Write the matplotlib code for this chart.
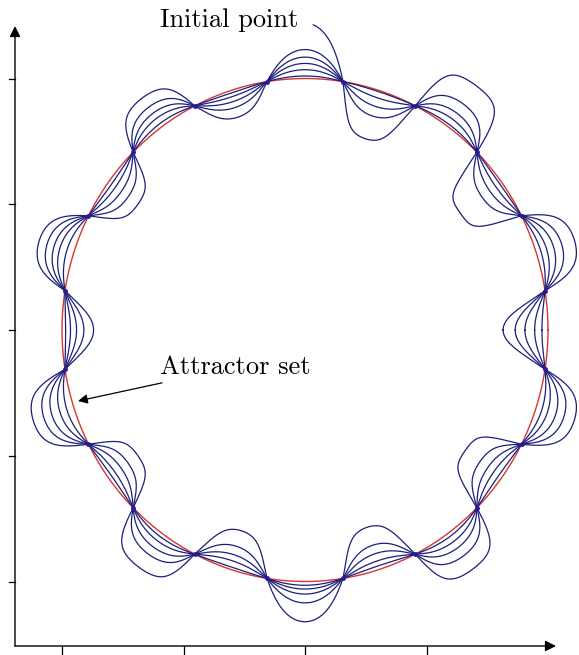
import numpy as np
import matplotlib
matplotlib.use("Agg")
import matplotlib.pyplot as plt

# attractor radius and the angles of the 20 lobes (centre of each arc between crossing points)
radius = 2.0
lobe_mid_deg = [18 * k for k in range(20)]

# signed radial deviation of each lobe, one list per turn of the trajectory
# (index k -> lobe centred at 18k degrees)
turn1_dev = [-0.37, 0.33, -0.42, 0.40, -0.40, 0.23, -0.22, 0.28, -0.30, 0.30,
             -0.26, 0.35, -0.30, 0.33, -0.32, 0.32, -0.35, 0.35, -0.37, 0.33]
turn2_dev = [-0.27, 0.22, -0.20, 0.22, -0.21, 0.17, -0.14, 0.19, -0.20, 0.23,
             -0.18, 0.26, -0.20, 0.20, -0.19, 0.17, -0.20, 0.22, -0.22, 0.24]
turn3_dev = [-0.19, 0.15, -0.12, 0.13, -0.13, 0.12, -0.09, 0.13, -0.13, 0.17,
             -0.12, 0.19, -0.13, 0.13, -0.12, 0.10, -0.13, 0.14, -0.14, 0.17]
turn4_dev = [-0.11, 0.09, -0.06, 0.07, -0.06, 0.07, -0.05, 0.08, -0.07, 0.12,
             -0.07, 0.12, -0.07, 0.07, -0.07, 0.06, -0.07, 0.08, -0.08, 0.10]
turn5_dev = [-0.05, 0.04, -0.02, 0.02, -0.01, 0.02, -0.02, 0.03, -0.03, 0.06,
             -0.03, 0.06, -0.03, 0.03, -0.02, 0.03, -0.03, 0.03, -0.03, 0.05]

# start of the trajectory (angle in degrees, deviation of that first lobe)
init_angle_deg = 88.4
init_dev = 0.44

x_ticks = [-2, -1, 0, 1]
y_ticks = [-2, -1, 0, 1, 2]

blue = '#1c1f7a'
red = '#d8362e'


def lobe_radius(theta_deg, devs):
    # radius along the curve: each arc between nodes bulges by its deviation;
    # lobes on the diagonals get a flatter (boxier) profile than those on the axes
    theta_deg = np.asarray(theta_deg, dtype=float)
    kr = np.round(theta_deg / 18.0)
    k = kr.astype(int) % 20
    u = (theta_deg - (kr * 18 - 9)) / 18.0
    d = np.asarray(devs)[k]
    mid = np.radians(kr * 18)
    c = 0.3 + (1.0 + 4.0 * np.abs(np.sin(2 * mid))) * np.abs(d)
    shape = np.tanh(c * np.sin(np.pi * u)) / np.tanh(c)
    return radius + d * shape


# pixel -> data helpers for the layout (centre of circle at px (305, 330))
def px_x(px):
    return (px - 305) / 121.5


def px_y(py):
    return (330 - py) / 125.75


fig = plt.figure(figsize=(5.79, 6.55), dpi=100)
ax = fig.add_axes([0, 0, 1, 1])
ax.set_xlim(px_x(0), px_x(579))
ax.set_ylim(px_y(655), px_y(0))
ax.axis('off')

# the attractor
th = np.linspace(0, 360, 1441)
ax.plot(radius * np.cos(np.radians(th)), radius * np.sin(np.radians(th)), color=red, lw=1.0, zorder=1)

# the trajectory turns
for devs in [turn1_dev, turn2_dev, turn3_dev, turn4_dev, turn5_dev]:
    r = lobe_radius(th, devs)
    ax.plot(r * np.cos(np.radians(th)), r * np.sin(np.radians(th)), color=blue, lw=0.9, zorder=2)

# first piece from the initial point down to the next node
th0 = np.linspace(init_angle_deg, 81, 60)
start_devs = list(turn1_dev)
start_devs[5] = init_dev
r0 = lobe_radius(th0, start_devs)
ax.plot(r0 * np.cos(np.radians(th0)), r0 * np.sin(np.radians(th0)), color=blue, lw=0.9, zorder=2)

# crossing points
node_deg = np.array(lobe_mid_deg) + 9
ax.plot(radius * np.cos(np.radians(node_deg)), radius * np.sin(np.radians(node_deg)),
        'o', color='#2a1a9a', ms=2.5, zorder=3)

# hand drawn axes with arrow heads
x0, y0 = px_x(15), px_y(646)
ax.annotate('', xy=(px_x(556), y0), xytext=(x0, y0),
            arrowprops=dict(arrowstyle='-|>', color='k', lw=1.0, mutation_scale=16, shrinkA=0, shrinkB=0))
ax.annotate('', xy=(x0, px_y(26)), xytext=(x0, y0),
            arrowprops=dict(arrowstyle='-|>', color='k', lw=1.0, mutation_scale=16, shrinkA=0, shrinkB=0))
for t in x_ticks:
    ax.plot([t, t], [y0, px_y(655)], color='k', lw=0.9)
for t in y_ticks:
    ax.plot([px_x(9), x0], [t, t], color='k', lw=0.9)

ax.text(px_x(160), px_y(20), 'Initial point', fontfamily='cmr10', fontsize=19, ha='left', va='center')
ax.annotate('Attractor set', xy=(px_x(78), px_y(401)), xytext=(px_x(160), px_y(367)),
            fontfamily='cmr10', fontsize=19, ha='left', va='center',
            arrowprops=dict(arrowstyle='-|>', color='k', lw=0.9, mutation_scale=14,
                            shrinkA=4, shrinkB=0))

fig.savefig('out.png', dpi=100)
